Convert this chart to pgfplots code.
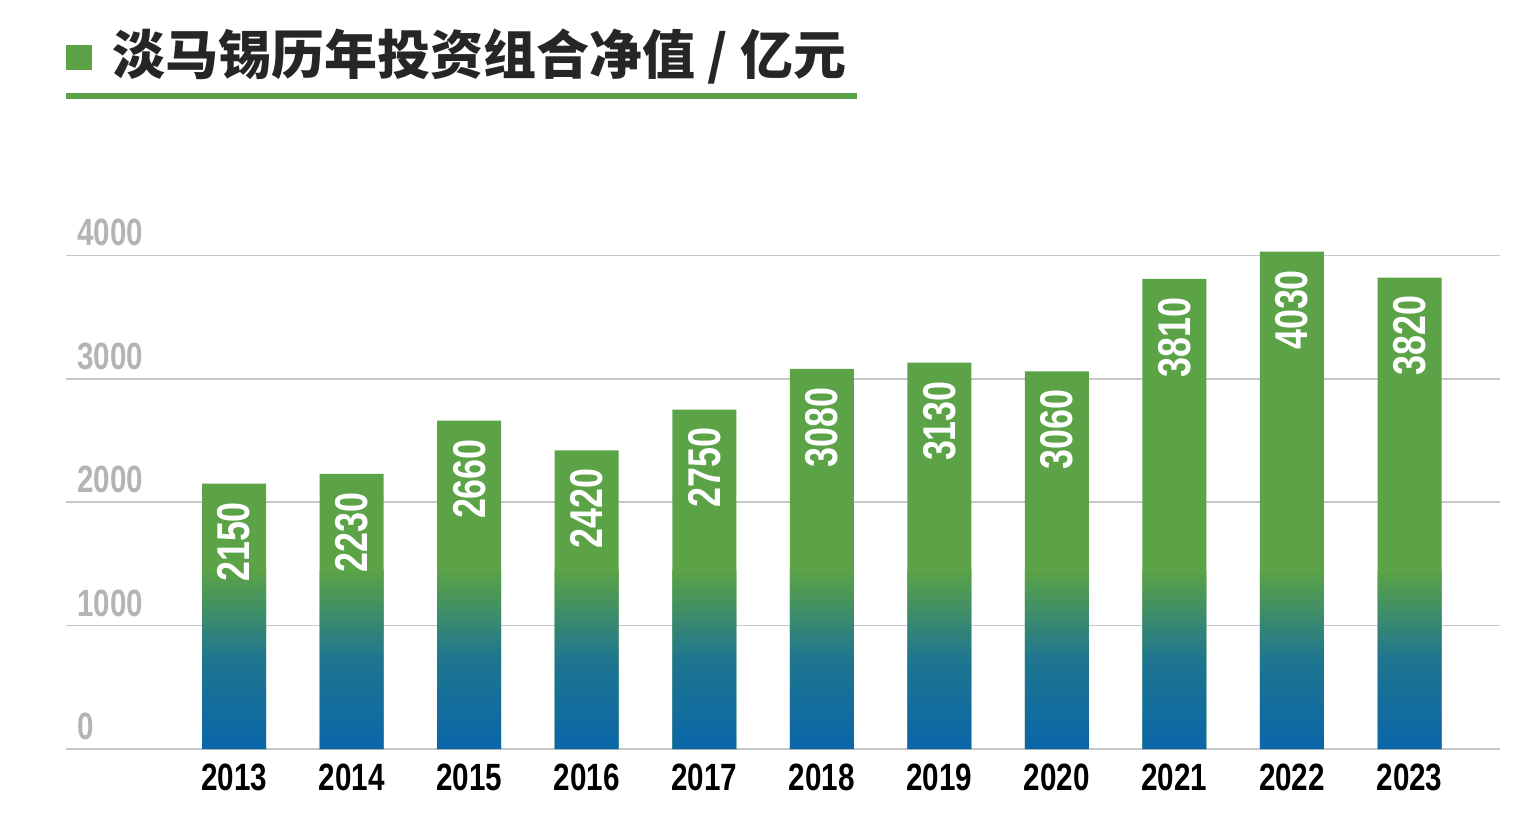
\documentclass[border=0pt]{standalone}
\usepackage{pgfplots}
\pgfplotsset{compat=1.18}
\usepackage{fontspec}
\setmainfont[FakeStretch=0.78]{Liberation Sans}
\newfontfamily\cjk{Noto Sans CJK SC}
\definecolor{g}{HTML}{5BA346}
\definecolor{b}{HTML}{0A66A8}
\definecolor{tg}{HTML}{B4B4B4}
\begin{document}
\begin{tikzpicture}
\useasboundingbox (0,0) rectangle (768pt,-413pt);
\fill[g] (33pt,-22.5pt) rectangle (46pt,-35pt);
\node[anchor=west,inner sep=0pt,text=black!85] at (56pt,-28.5pt) {\cjk\bfseries\fontsize{26.5pt}{28pt}\selectfont 淡马锡历年投资组合净值 / 亿元};
\fill[g] (33pt,-46.5pt) rectangle (428.5pt,-49.5pt);
\begin{axis}[at={(33pt,-374.5pt)},anchor=south west,scale only axis,
 width=717pt,height=253pt,xmin=-1.43,xmax=10.77,ymin=0,ymax=4100,
 axis line style={draw=none}, ytick={0,1000,2000,3000,4000}, xtick=data,
 xticklabels={2013,2014,2015,2016,2017,2018,2019,2020,2021,2022,2023},
 ymajorgrids, grid style={color=black!22,line width=0.8pt},
 major tick length=0pt, tick style={draw=none},
 /pgf/number format/assume math mode=true,
 /pgf/number format/1000 sep={},
 yticklabel style={anchor=south west,xshift=2pt,yshift=1pt,font=\fontsize{19pt}{20pt}\selectfont\bfseries,text=tg},
 xticklabel style={font=\fontsize{19pt}{20pt}\selectfont\bfseries,text=black,yshift=-4pt},
 ybar,bar width=32pt,bar shift=0pt]
\addplot[fill=g,draw=none] coordinates {(0,2150)(1,2230)(2,2660)(3,2420)(4,2750)(5,3080)(6,3130)(7,3060)(8,3810)(9,4030)(10,3820)};
\addplot[draw=none,top color=g,bottom color=b,middle color=b!75!g] coordinates {(0,1450)(1,1450)(2,1450)(3,1450)(4,1450)(5,1450)(6,1450)(7,1450)(8,1450)(9,1450)(10,1450)};
\addplot[draw=none,fill=none,nodes near coords,
 nodes near coords style={rotate=90,anchor=east,inner sep=9pt,text=white,font=\fontsize{23pt}{24pt}\selectfont\bfseries}] coordinates {(0,2150)(1,2230)(2,2660)(3,2420)(4,2750)(5,3080)(6,3130)(7,3060)(8,3810)(9,4030)(10,3820)};
\end{axis}
\end{tikzpicture}
\end{document}
